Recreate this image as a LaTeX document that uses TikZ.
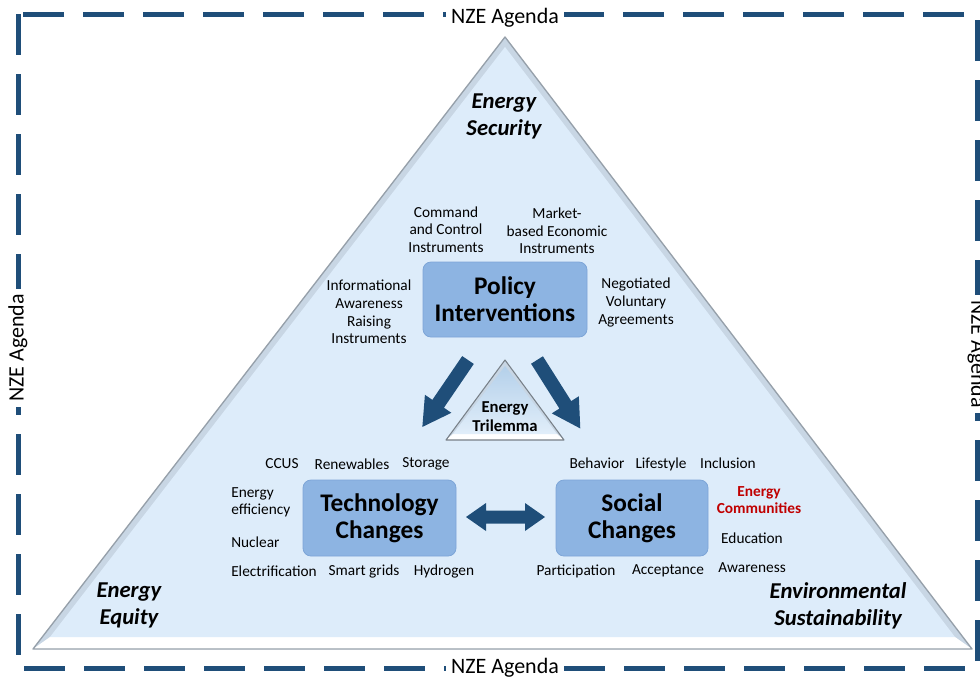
\documentclass[tikz,border=0pt]{standalone}
\usepackage{fontspec}
\setmainfont{Carlito}
\usetikzlibrary{calc}
\definecolor{navy}{RGB}{31,78,121}
\definecolor{boxblue}{RGB}{141,180,226}
\definecolor{boxedge}{RGB}{125,165,215}
\definecolor{triblue}{RGB}{221,236,250}
\definecolor{bevel}{RGB}{200,214,228}
\definecolor{edgegray}{RGB}{150,160,170}
\definecolor{redtxt}{RGB}{192,0,0}
\begin{document}
\begin{tikzpicture}[x=0.75pt,y=-0.75pt,
  lbl/.style={font=\fontsize{11.5}{13.2}\selectfont, align=center, inner sep=0pt},
  boxs/.style={rounded corners=6pt, fill=boxblue, draw=boxedge, line width=0.6pt,
    font=\fontsize{19}{20.3}\selectfont\bfseries, align=center, inner sep=0pt},
  corner/.style={font=\fontsize{17}{20.3}\selectfont\bfseries\itshape, align=center, inner sep=0pt},
  nze/.style={font=\fontsize{16.5}{18}\selectfont, fill=white, inner sep=4pt},
  blockarrow/.style={fill=navy, draw=none}
]
\useasboundingbox (0,0) rectangle (980,683);
% dashed frame
\draw[navy, line width=3.75pt, dash pattern=on 31pt off 14pt] (18,14) rectangle (977,668);
\node[nze] (ntop) at (505,18) {NZE Agenda};
\node[nze] (nbot) at (505,668) {NZE Agenda};
\node[nze, rotate=90] (nleft) at (18,348) {NZE Agenda};
\node[nze, rotate=-90] (nright) at (977,354) {NZE Agenda};

% big triangle with bevel
\fill[bevel] (505,37) -- (33,649) -- (972,649) -- cycle;
\fill[white] (33,649) -- (972,649) -- (955,637) -- (50,637) -- cycle;
\fill[triblue] (505,47) -- (50,637) -- (955,637) -- cycle;
\draw[edgegray, line width=1pt, line join=round] (505,37) -- (33,649) -- (972,649) -- cycle;

% small triangle
\fill[bevel] (505,360) -- (446,440) -- (564,440) -- cycle;
\fill[white] (446,440) -- (564,440) -- (557,434) -- (453,434) -- cycle;
\shade[top color={rgb,255:red,180;green,208;blue,234}, bottom color={rgb,255:red,225;green,238;blue,250}]
  (505,366) -- (453,434) -- (557,434) -- cycle;
\draw[edgegray!80!black, line width=0.8pt, line join=round] (505,360) -- (446,440) -- (564,440) -- cycle;
\node[font=\fontsize{12.5}{14.3}\selectfont\bfseries, align=center, inner sep=0pt] (tri) at (505,417) {Energy\\Trilemma};

% boxes
\node[boxs, minimum width=123pt, minimum height=56.25pt] (pol) at (505,299.5) {Policy\\Interventions};
\node[boxs, minimum width=114.75pt, minimum height=57pt] (tech) at (379.5,518) {Technology\\Changes};
\node[boxs, minimum width=114pt, minimum height=57pt] (soc) at (632,518) {Social\\Changes};

% block arrows
\begin{scope}[shift={(468,360)}, rotate=-124.3]
  \fill[blockarrow] (0,-7) -- (53,-7) -- (53,-16) -- (81,0) -- (53,16) -- (53,7) -- (0,7) -- cycle;
\end{scope}
\begin{scope}[shift={(537,360)}, rotate=-57.7]
  \fill[blockarrow] (0,-7) -- (53,-7) -- (53,-16) -- (81,0) -- (53,16) -- (53,7) -- (0,7) -- cycle;
\end{scope}
\fill[blockarrow] (466,517) -- (486,503) -- (486,510.5) -- (525,510.5) -- (525,503) -- (545,517)
  -- (525,531) -- (525,523.5) -- (486,523.5) -- (486,531) -- cycle;

% corner labels
\node[corner] (sec) at (504,116.5) {Energy\\Security};
\node[corner] (equ) at (129,605.5) {Energy\\Equity};
\node[corner] (env) at (838,605.5) {Environmental\\Sustainability};

% policy labels
\node[lbl] (cc) at (446,229.5) {Command\\and Control\\Instruments};
\node[lbl] (mb) at (557,231) {Market-\\based Economic\\Instruments};
\node[lbl] (inf) at (369,312) {Informational\\Awareness\\Raising\\Instruments};
\node[lbl] (neg) at (636,302.5) {Negotiated\\Voluntary\\Agreements};

% technology labels
\node[lbl] (ccus) at (282,464) {CCUS};
\node[lbl] (ren) at (352,464) {Renewables};
\node[lbl] (sto) at (426,464) {Storage};
\node[lbl, anchor=west, align=left] (eff) at (231,502.5) {Energy\\efficiency};
\node[lbl, anchor=west] (nuc) at (231,542) {Nuclear};
\node[lbl] (ele) at (274,571) {Electrification};
\node[lbl] (sg) at (364,571) {Smart grids};
\node[lbl] (hyd) at (444,571) {Hydrogen};

% social labels
\node[lbl] (beh) at (597,463) {Behavior};
\node[lbl] (life) at (661,464) {Lifestyle};
\node[lbl] (inc) at (728,463) {Inclusion};
\node[lbl, text=redtxt, font=\fontsize{11.5}{13.2}\selectfont\bfseries] (ec) at (759,500) {Energy\\Communities};
\node[lbl] (edu) at (752,538) {Education};
\node[lbl] (awa) at (752,568) {Awareness};
\node[lbl] (par) at (576,571) {Participation};
\node[lbl] (acc) at (668,571) {Acceptance};
\end{tikzpicture}
\end{document}
